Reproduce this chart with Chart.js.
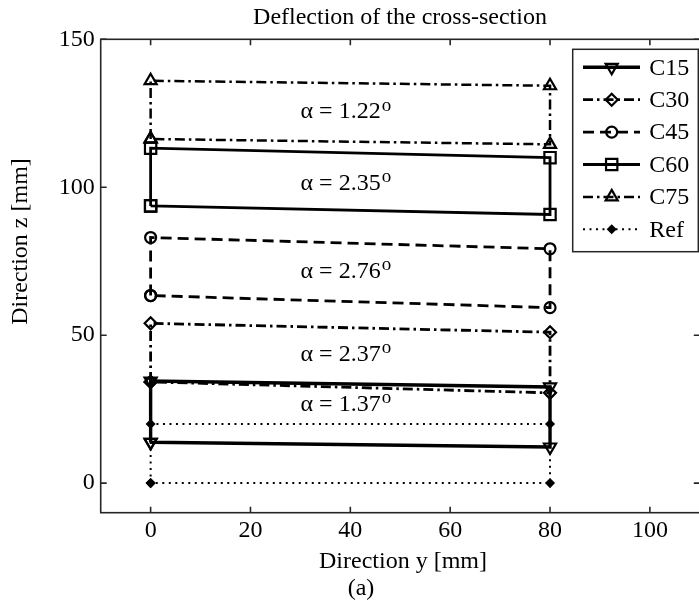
<!DOCTYPE html>
<html>
<head>
<meta charset="utf-8">
<script src="https://cdn.jsdelivr.net/npm/chart.js"></script>
<style>
    html, body { margin: 0; padding: 0; overflow: hidden; background: #fff; }
    #wrap { width: 710px; height: 611px; }
</style>
</head>
<body>
<div id="wrap">
    <canvas id="sectionChart" width="710" height="611"></canvas>
</div>
<script>
    // Corner order of every section: bottom-left, top-left, top-right, bottom-right (then closed)
    const yPath = [0, 0, 80, 80, 0];
    const c15Z = [13.8, 34.5, 32.5, 12.2];
    const c30Z = [34.2, 54.0, 51.0, 30.5];
    const c45Z = [63.4, 83.0, 79.2, 59.3];
    const c60Z = [93.7, 113.2, 110.0, 90.8];
    const c75Z = [116.3, 136.0, 134.3, 114.5];
    const refZ = [0, 20, 20, 0];

    const xTicks = [0, 20, 40, 60, 80, 100];
    const yTicks = [0, 50, 100, 150];

    // Rotation angle labels
    const alphaText = ['1.22', '2.35', '2.76', '2.37', '1.37'];
    const alphaAtY = [39, 39, 39, 39, 39];
    const alphaAtZ = [125.4, 101.3, 71.6, 43.5, 26.6];

    const FONT = "'Liberation Serif', 'Times New Roman', serif";

    function closedPath(z) {
        return yPath.map((y, i) => ({ x: y, y: z[i % 4] }));
    }

    function section(label, z, dash, width, style, radius, rotation, fill) {
        return {
            label: label,
            data: closedPath(z),
            showLine: true,
            borderColor: '#000',
            borderWidth: width,
            borderDash: dash,
            pointStyle: style,
            pointRadius: radius,
            pointRotation: rotation,
            pointBorderColor: '#000',
            pointBorderWidth: 2.2,
            pointBackgroundColor: fill,
            pointHoverRadius: radius
        };
    }

    const datasets = [
        section('C15', c15Z, [], 3.4, 'triangle', 7, 180, 'rgba(0,0,0,0)'),
        section('C30', c30Z, [10, 4, 2.5, 4], 2.8, 'rectRot', 6, 0, 'rgba(0,0,0,0)'),
        section('C45', c45Z, [11, 6], 2.8, 'circle', 5.5, 0, 'rgba(0,0,0,0)'),
        section('C60', c60Z, [], 2.8, 'rect', 8, 0, 'rgba(0,0,0,0)'),
        section('C75', c75Z, [10, 4, 2.5, 4], 2.5, 'triangle', 7, 0, 'rgba(0,0,0,0)'),
        section('Ref', refZ, [2, 4.5], 2, 'rectRot', 3.5, 0, '#000')
    ];

    // Box around the axes with inward ticks on all four sides
    const framePlugin = {
        id: 'frame',
        afterDatasetsDraw(chart) {
            const { ctx, chartArea: a, scales } = chart;
            ctx.save();
            ctx.strokeStyle = '#262626';
            ctx.lineWidth = 1.6;
            ctx.setLineDash([]);
            ctx.strokeRect(a.left, a.top, a.right - a.left, a.bottom - a.top);
            const t = 6;
            ctx.beginPath();
            xTicks.forEach(v => {
                const px = scales.x.getPixelForValue(v);
                ctx.moveTo(px, a.bottom); ctx.lineTo(px, a.bottom - t);
                ctx.moveTo(px, a.top); ctx.lineTo(px, a.top + t);
            });
            yTicks.forEach(v => {
                const py = scales.y.getPixelForValue(v);
                ctx.moveTo(a.left, py); ctx.lineTo(a.left + t, py);
                ctx.moveTo(a.right, py); ctx.lineTo(a.right - t, py);
            });
            ctx.stroke();
            ctx.restore();
        }
    };

    // Texts: title, axis labels, panel tag and the alpha annotations
    const textPlugin = {
        id: 'texts',
        afterDraw(chart) {
            const { ctx, scales } = chart;
            ctx.save();
            ctx.fillStyle = '#000';
            ctx.font = '24px ' + FONT;
            ctx.textAlign = 'center';
            ctx.textBaseline = 'alphabetic';
            ctx.fillText('Deflection of the cross-section', 400, 24);
            ctx.fillText('Direction y [mm]', 403, 567.5);
            ctx.fillText('(a)', 361, 595);

            ctx.save();
            ctx.translate(26.5, 241.5);
            ctx.rotate(-Math.PI / 2);
            ctx.fillText('Direction z [mm]', 0, 0);
            ctx.restore();

            ctx.textBaseline = 'middle';
            ctx.textAlign = 'left';
            alphaText.forEach((s, i) => {
                const main = '\u03b1 = ' + s;
                ctx.font = '24px ' + FONT;
                const w1 = ctx.measureText(main).width;
                ctx.font = '19px ' + FONT;
                const w2 = ctx.measureText('o').width;
                const cx = scales.x.getPixelForValue(alphaAtY[i]);
                const cy = scales.y.getPixelForValue(alphaAtZ[i]);
                const x0 = cx - (w1 + w2) / 2;
                ctx.font = '24px ' + FONT;
                ctx.fillText(main, x0, cy);
                ctx.font = '19px ' + FONT;
                ctx.fillText('o', x0 + w1 + 1, cy - 6);
            });
            ctx.restore();
        }
    };

    // MATLAB style legend: line sample with the marker in its middle
    const legendPlugin = {
        id: 'boxLegend',
        afterDraw(chart) {
            const ctx = chart.ctx;
            const box = { left: 572.7, top: 49.3, right: 698.3, bottom: 251.7 };
            ctx.save();
            ctx.fillStyle = '#fff';
            ctx.fillRect(box.left, box.top, box.right - box.left, box.bottom - box.top);
            ctx.strokeStyle = '#262626';
            ctx.lineWidth = 1.5;
            ctx.strokeRect(box.left, box.top, box.right - box.left, box.bottom - box.top);
            chart.data.datasets.forEach((ds, i) => {
                const y = 67.3 + i * 32.4;
                ctx.strokeStyle = '#000';
                ctx.lineWidth = ds.borderWidth;
                ctx.setLineDash(ds.borderDash);
                ctx.beginPath();
                ctx.moveTo(583, y);
                ctx.lineTo(640, y);
                ctx.stroke();
                ctx.setLineDash([]);
                ctx.fillStyle = ds.pointBackgroundColor;
                ctx.strokeStyle = '#000';
                ctx.lineWidth = ds.pointBorderWidth;
                Chart.helpers.drawPoint(ctx, {
                    pointStyle: ds.pointStyle,
                    rotation: ds.pointRotation,
                    radius: ds.pointRadius,
                    borderWidth: ds.pointBorderWidth
                }, 611.7, y);
                ctx.fillStyle = '#000';
                ctx.font = '24px ' + FONT;
                ctx.textAlign = 'left';
                ctx.textBaseline = 'middle';
                ctx.fillText(ds.label, 649.3, y + 1);
            });
            ctx.restore();
        }
    };

    const ctx = document.getElementById('sectionChart').getContext('2d');
    new Chart(ctx, {
        type: 'scatter',
        data: { datasets: datasets },
        options: {
            responsive: false,
            animation: false,
            layout: { padding: { top: 39.3, left: 0, right: 6, bottom: 0 } },
            plugins: {
                legend: { display: false },
                title: { display: false },
                tooltip: { enabled: false }
            },
            scales: {
                x: {
                    type: 'linear',
                    min: -10,
                    max: 110,
                    afterFit: s => { s.height = 98.3; },
                    afterBuildTicks: s => { s.ticks = xTicks.map(v => ({ value: v })); },
                    grid: { display: false, drawTicks: false },
                    border: { display: false },
                    ticks: {
                        font: { family: FONT, size: 24 },
                        color: '#000',
                        padding: 4,
                        maxRotation: 0,
                        autoSkip: false
                    }
                },
                y: {
                    type: 'linear',
                    min: -10,
                    max: 150,
                    afterFit: s => { s.width = 100.7; },
                    afterBuildTicks: s => { s.ticks = yTicks.map(v => ({ value: v })); },
                    grid: { display: false, drawTicks: false },
                    border: { display: false },
                    ticks: {
                        font: { family: FONT, size: 24 },
                        color: '#000',
                        padding: 6,
                        autoSkip: false
                    }
                }
            }
        },
        plugins: [framePlugin, textPlugin, legendPlugin]
    });
</script>
</body>
</html>
